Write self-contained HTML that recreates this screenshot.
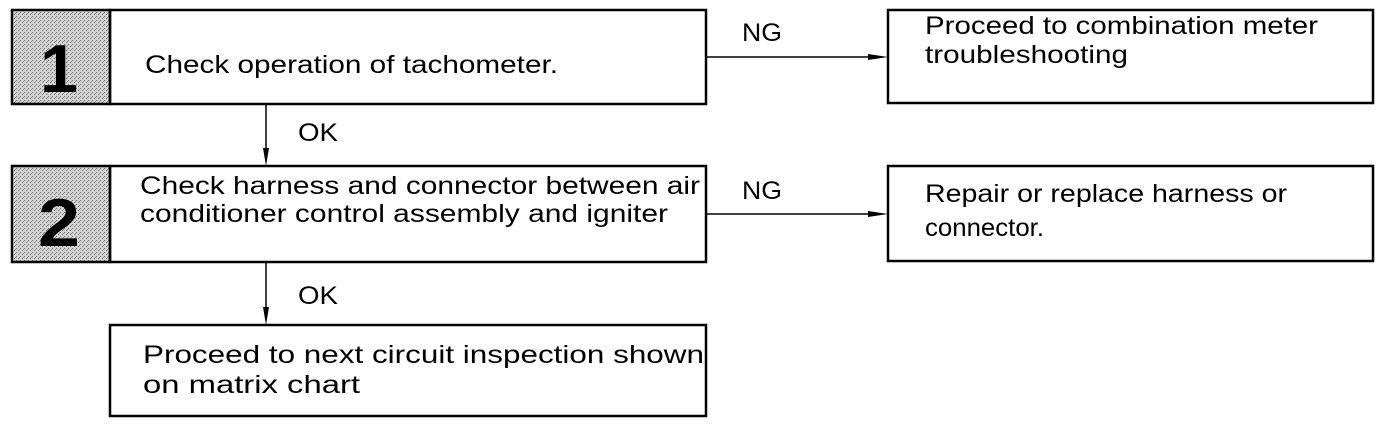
<!DOCTYPE html>
<html><head><meta charset="utf-8"><style>
html,body{margin:0;padding:0;background:#fff;}
svg{display:block;}
text{font-family:"Liberation Sans",sans-serif;fill:#000;}
</style></head><body>
<svg width="1392" height="432" viewBox="0 0 1392 432" xmlns="http://www.w3.org/2000/svg">
<defs>
<pattern id="dither" width="4" height="4" patternUnits="userSpaceOnUse">
<rect width="4" height="4" fill="#d4d4d4"/>
<rect x="0" y="0" width="1" height="1" fill="#666"/>
<rect x="2" y="2" width="1" height="1" fill="#666"/>
<rect x="3" y="1" width="1" height="1" fill="#888"/>
</pattern>
</defs>
<g stroke="#000" stroke-width="2.5" fill="none">
<rect x="12" y="10" width="98" height="94" fill="url(#dither)"/>
<rect x="110" y="10" width="596" height="94"/>
<rect x="888" y="10" width="485" height="93"/>
<rect x="12" y="166" width="98" height="96" fill="url(#dither)"/>
<rect x="110" y="166" width="596" height="96"/>
<rect x="888" y="166" width="485" height="95"/>
<rect x="110" y="325" width="596" height="91"/>
</g>
<g stroke="#000" stroke-width="1.5">
<line x1="706" y1="57" x2="880" y2="57"/>
<line x1="706" y1="214" x2="880" y2="214"/>
<line x1="266" y1="104" x2="266" y2="160"/>
<line x1="266" y1="262" x2="266" y2="319"/>
</g>
<g fill="#000">
<polygon points="868,54 888,57 868,60"/>
<polygon points="868,211 888,214 868,217"/>
<polygon points="263,148 266,166 269,148"/>
<polygon points="263,307 266,325 269,307"/>
</g>
<text x="40" y="92" font-size="68" font-weight="bold" fill="#111" textLength="38" lengthAdjust="spacingAndGlyphs">1</text>
<text x="38" y="246" font-size="68" font-weight="bold" fill="#111" textLength="42" lengthAdjust="spacingAndGlyphs">2</text>
<g font-size="25">
<text x="145" y="73" textLength="413" lengthAdjust="spacingAndGlyphs">Check operation of tachometer.</text>
<text x="742" y="41" textLength="40" lengthAdjust="spacingAndGlyphs">NG</text>
<text x="925" y="34" textLength="393" lengthAdjust="spacingAndGlyphs">Proceed to combination meter</text>
<text x="925" y="63" textLength="203" lengthAdjust="spacingAndGlyphs">troubleshooting</text>
<text x="298" y="141" textLength="40" lengthAdjust="spacingAndGlyphs">OK</text>
<text x="140" y="194" textLength="560" lengthAdjust="spacingAndGlyphs">Check harness and connector between air</text>
<text x="140" y="222" textLength="528" lengthAdjust="spacingAndGlyphs">conditioner control assembly and igniter</text>
<text x="742" y="199" textLength="40" lengthAdjust="spacingAndGlyphs">NG</text>
<text x="925" y="202" textLength="362" lengthAdjust="spacingAndGlyphs">Repair or replace harness or</text>
<text x="925" y="236" textLength="119" lengthAdjust="spacingAndGlyphs">connector.</text>
<text x="298" y="304" textLength="40" lengthAdjust="spacingAndGlyphs">OK</text>
<text x="143" y="363" textLength="561" lengthAdjust="spacingAndGlyphs">Proceed to next circuit inspection shown</text>
<text x="143" y="393" textLength="217" lengthAdjust="spacingAndGlyphs">on matrix chart</text>
</g>
</svg>
</body></html>
